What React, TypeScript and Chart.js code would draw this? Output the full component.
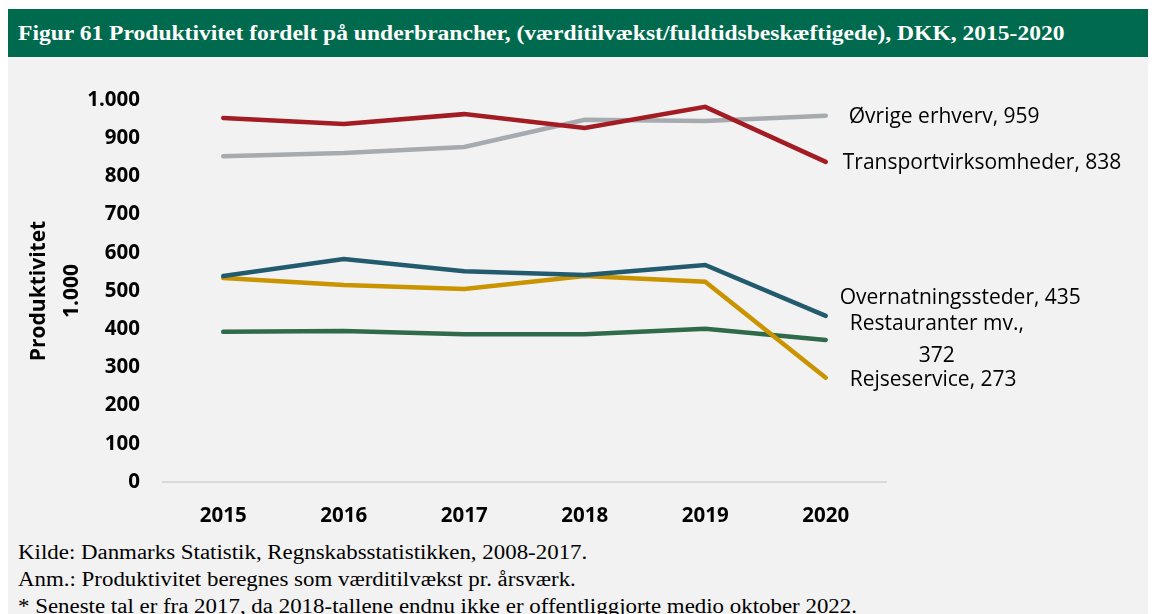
import React, { useEffect, useRef } from "react";
import { Chart, registerables } from "chart.js";

Chart.register(...registerables);

const years = ["2015", "2016", "2017", "2018", "2019", "2020"];
const transport = [953, 937, 963, 927, 982, 838];
const ovrige = [853, 861, 877, 948, 945, 959];
const overnatning = [539, 584, 552, 542, 568, 435];
const rejseservice = [534, 516, 505, 539, 524, 273];
const restauranter = [393, 395, 387, 387, 401, 372];

const yTicks = [0, 100, 200, 300, 400, 500, 600, 700, 800, 900, 1000];

const seriesNames = ["Transportvirksomheder", "Øvrige erhverv", "Overnatningssteder", "Rejseservice", "Restauranter mv."];
const endLabels = [
  ["Transportvirksomheder, 838"],
  ["Øvrige erhverv, 959"],
  ["Overnatningssteder, 435"],
  ["Rejseservice, 273"],
  ["Restauranter mv.,", "372"],
];

const titleText = "Figur 61 Produktivitet fordelt på underbrancher, (værditilvækst/fuldtidsbeskæftigede), DKK, 2015-2020";
const footerLines = [
  "Kilde: Danmarks Statistik, Regnskabsstatistikken, 2008-2017.",
  "Anm.: Produktivitet beregnes som værditilvækst pr. årsværk.",
  "* Seneste tal er fra 2017, da 2018-tallene endnu ikke er offentliggjorte medio oktober 2022.",
];

const colors = ["#a31b23", "#a6abb0", "#235b6e", "#c99400", "#2f6b4b"];
// label offsets (style only) relative to last point
const labelOffsets = [
  { dx: 17, dy: 1 },
  { dx: 23, dy: 1 },
  { dx: 14, dy: -18 },
  { dx: 24, dy: 2 },
  { dx: 24, dy: -16 },
];

const SANS = "'Open Sans', sans-serif";

const endLabelPlugin = {
  id: "endLabels",
  afterDatasetsDraw(chart: any) {
    const ctx = chart.ctx;
    ctx.save();
    ctx.fillStyle = "#000";
    ctx.font = `21px ${SANS}`;
    ctx.textBaseline = "middle";
    chart.data.datasets.forEach((ds: any, i: number) => {
      const meta = chart.getDatasetMeta(i);
      const pt = meta.data[meta.data.length - 1];
      const lines = endLabels[i];
      const x = pt.x + labelOffsets[i].dx;
      const y = pt.y + labelOffsets[i].dy;
      ctx.textAlign = "left";
      ctx.fillText(lines[0], x, y);
      if (lines.length > 1) {
        const w = ctx.measureText(lines[0]).width;
        ctx.textAlign = "center";
        ctx.fillText(lines[1], x + w / 2, y + 32);
      }
    });
    // y axis title
    const ys = chart.scales.y;
    const cy = (ys.top + ys.bottom) / 2 + 0;
    ctx.font = `bold 21px ${SANS}`;
    ctx.textAlign = "center";
    ctx.textBaseline = "middle";
    [["Produktivitet", 31], ["1.000", 64]].forEach(([t, x]: any) => {
      ctx.save();
      ctx.translate(x, cy);
      ctx.rotate(-Math.PI / 2);
      ctx.fillText(t, 0, 0);
      ctx.restore();
    });
    ctx.restore();
  },
};

export default function App() {
  const ref = useRef<HTMLCanvasElement>(null);
  useEffect(() => {
    if (!ref.current) return;
    const series = [transport, ovrige, overnatning, rejseservice, restauranter];
    const chart = new Chart(ref.current, {
      type: "line",
      data: {
        labels: years,
        datasets: series.map((d, i) => ({
          label: seriesNames[i],
          data: d,
          borderColor: colors[i],
          backgroundColor: colors[i],
          borderWidth: 4.5,
          pointRadius: 0,
          borderCapStyle: "round",
          borderJoinStyle: "miter",
          tension: 0,
        })),
      },
      options: {
        animation: false,
        responsive: false,
        maintainAspectRatio: false,
        layout: { padding: { left: 0, top: 43, right: 262, bottom: 0 } },
        plugins: { legend: { display: false }, tooltip: { enabled: false } },
        scales: {
          x: {
            offset: true,
            grid: { display: true, drawOnChartArea: false, drawTicks: false, offset: true },
            border: { display: true, color: "#d9d9d9", width: 2 },
            ticks: { color: "#000", font: { family: SANS, size: 20.5, weight: "bold" }, padding: 22 },
            afterFit: (s: any) => { s.height = 55; },
          },
          y: {
            min: 0,
            max: 1000,
            afterBuildTicks: (s: any) => { s.ticks = yTicks.map((v) => ({ value: v })); },
            grid: { display: false, drawTicks: false },
            border: { display: false },
            ticks: {
              color: "#000",
              font: { family: SANS, size: 20.5, weight: "bold" },
              padding: 23,
              callback: (v: any) => (v === 1000 ? "1.000" : String(v)),
            },
            afterFit: (s: any) => { s.width = 155; },
          },
        },
      },
      plugins: [endLabelPlugin],
    } as any);
    return () => chart.destroy();
  }, []);

  return (
    <div style={{ position: "absolute", left: 0, top: 0, width: 1152, height: 614, background: "#fff", overflow: "hidden" }}>
      <div style={{ position: "absolute", left: 8, top: 9, width: 1140, height: 48, background: "#006a4e" }} />
      <div style={{ position: "absolute", left: 18, top: 9, height: 48, lineHeight: "48px", color: "#fff", fontFamily: "'Liberation Serif', serif", fontWeight: "bold", fontSize: 20, whiteSpace: "nowrap", transform: "scaleX(1.177)", transformOrigin: "left center" }}>
        {titleText}
      </div>
      <div style={{ position: "absolute", left: 8, top: 57, width: 1140, height: 557, background: "#f2f2f2" }} />
      <canvas ref={ref} width={1140} height={480} style={{ position: "absolute", left: 8, top: 57, width: 1140, height: 480 }} />
      {footerLines.map((t, i) => (
        <div key={i} style={{ position: "absolute", left: 18, top: 539 + i * 27, height: 26, lineHeight: "26px", color: "#000", fontFamily: "'Liberation Serif', serif", fontSize: 20, whiteSpace: "nowrap", transform: "scaleX(1.145)", transformOrigin: "left center" }}>
          {t}
        </div>
      ))}
    </div>
  );
}
